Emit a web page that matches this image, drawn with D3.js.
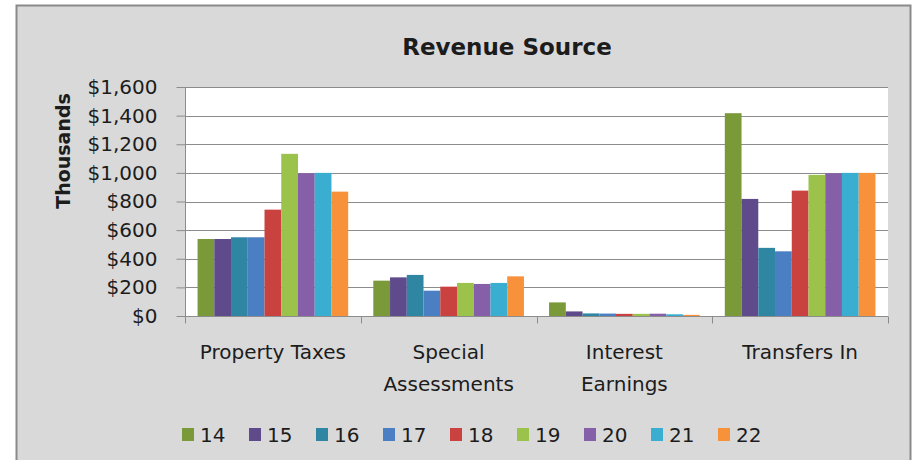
<!DOCTYPE html>
<html>
<head>
<meta charset="utf-8">
<script src="https://cdn.jsdelivr.net/npm/d3@7"></script>
<style>
  html, body { margin: 0; padding: 0; background: #ffffff; }
  svg { display: block; }
  text { font-family: "DejaVu Sans", sans-serif; fill: #1c1c1c; }
</style>
</head>
<body>
<svg id="chart" width="916" height="460"></svg>
<script>
// Revenue by source, fiscal years 14–22 (in thousands of dollars)
const categories = ["Property Taxes", "Special Assessments", "Interest Earnings", "Transfers In"];
const years = ["14", "15", "16", "17", "18", "19", "20", "21", "22"];
const propertyTaxes      = [538, 538, 550, 550, 743, 1133, 997, 1000, 869];
const specialAssessments = [247, 270, 287, 177, 205, 231, 224, 231, 277];
const interestEarnings   = [95, 32, 18, 17, 15, 15, 16, 12, 8];
const transfersIn        = [1417, 818, 476, 452, 876, 986, 997, 1000, 1000];
const yTicks = [0, 200, 400, 600, 800, 1000, 1200, 1400, 1600];
const yearColors = ["#7a9a3a", "#5f4a8b", "#2e86a3", "#4a7fc4", "#c9423f",
                    "#9bc24a", "#8560a8", "#3aaed0", "#f7923b"];

const valuesByCategory = [propertyTaxes, specialAssessments, interestEarnings, transfersIn];
const rows = categories.map((c, i) => ({ category: c, values: valuesByCategory[i] }));

const svg = d3.select("#chart");

// chart frame
svg.append("rect")
  .attr("x", 16.5).attr("y", 5.5).attr("width", 894).attr("height", 470)
  .attr("fill", "#d9d9d9").attr("stroke", "#8a8a8a").attr("stroke-width", 2);

const plot = { left: 185, right: 888, top: 87, bottom: 316 };

const x0 = d3.scaleBand().domain(categories).range([plot.left, plot.right]).padding(0);
const bw = x0.bandwidth();
const gapPad = bw * 0.75 / 10.5;
const x1 = d3.scaleBand().domain(years).range([gapPad, bw - gapPad]).padding(0);
const y = d3.scaleLinear().domain([0, 1600]).range([plot.bottom, plot.top]);
const color = d3.scaleOrdinal().domain(years).range(yearColors);

// plot area
svg.append("rect")
  .attr("x", plot.left).attr("y", plot.top)
  .attr("width", plot.right - plot.left).attr("height", plot.bottom - plot.top)
  .attr("fill", "#ffffff");

// gridlines
svg.append("g")
  .selectAll("line").data(yTicks.filter(d => d > 0)).join("line")
  .attr("x1", plot.left).attr("x2", plot.right)
  .attr("y1", d => Math.round(y(d)) + 0.5).attr("y2", d => Math.round(y(d)) + 0.5)
  .attr("stroke", "#8c8c8c").attr("stroke-width", 1);

// bars
const groups = svg.append("g").selectAll("g").data(rows).join("g")
  .attr("transform", d => `translate(${x0(d.category)},0)`);
groups.selectAll("rect")
  .data(d => d.values.map((v, i) => ({ year: years[i], value: v })))
  .join("rect")
  .attr("x", d => x1(d.year))
  .attr("width", x1.bandwidth())
  .attr("y", d => y(d.value))
  .attr("height", d => y(0) - y(d.value))
  .attr("fill", d => color(d.year));

// y axis
const yAxis = svg.append("g")
  .attr("transform", `translate(${plot.left + 0.5},0)`)
  .call(d3.axisLeft(y).tickValues(yTicks).tickSize(9).tickPadding(19)
    .tickFormat(d => "$" + d3.format(",")(d)));
yAxis.select(".domain").attr("stroke", "#8c8c8c").attr("d", `M0,${plot.top}V${plot.bottom}`);
yAxis.selectAll(".tick line").attr("stroke", "#8c8c8c");
yAxis.selectAll(".tick text")
  .attr("font-size", 20).attr("font-family", "DejaVu Sans, sans-serif").attr("fill", "#1c1c1c");

// x axis
const xAxis = svg.append("g")
  .attr("transform", `translate(0,${plot.bottom + 0.5})`);
xAxis.append("line")
  .attr("x1", plot.left).attr("x2", plot.right)
  .attr("stroke", "#8c8c8c");
xAxis.selectAll(".tick").data(d3.range(categories.length + 1)).join("line")
  .attr("x1", i => Math.round(plot.left + i * bw) + 0.5)
  .attr("x2", i => Math.round(plot.left + i * bw) + 0.5)
  .attr("y1", 0).attr("y2", 7)
  .attr("stroke", "#8c8c8c");

// category labels, wrapped to the band width
const catLabels = svg.append("g").selectAll("text").data(categories).join("text")
  .attr("x", d => x0(d) + bw / 2)
  .attr("y", 359)
  .attr("text-anchor", "middle")
  .attr("font-size", 20);
catLabels.each(function (d) {
  const t = d3.select(this);
  const words = d.split(" ");
  t.text(d);
  if (this.getComputedTextLength() > bw - 8 && words.length > 1) {
    t.text(null);
    const half = Math.ceil(words.length / 2);
    t.append("tspan").attr("x", x0(d) + bw / 2).attr("dy", 0).text(words.slice(0, half).join(" "));
    t.append("tspan").attr("x", x0(d) + bw / 2).attr("dy", 32).text(words.slice(half).join(" "));
  }
});

// title
svg.append("text")
  .attr("x", 507).attr("y", 55)
  .attr("text-anchor", "middle")
  .attr("font-size", 23).attr("font-weight", "bold")
  .attr("fill", "#111111")
  .text("Revenue Source");

// y axis title
svg.append("text")
  .attr("transform", "translate(70,151) rotate(-90)")
  .attr("text-anchor", "middle")
  .attr("font-size", 19).attr("font-weight", "bold")
  .attr("fill", "#111111")
  .text("Thousands");

// legend
const legend = svg.append("g").selectAll("g").data(years).join("g")
  .attr("transform", (d, i) => `translate(${182 + i * 67},435)`);
legend.append("rect")
  .attr("x", 0).attr("y", -7).attr("width", 12).attr("height", 13)
  .attr("fill", d => color(d));
legend.append("text")
  .attr("x", 18).attr("y", 7)
  .attr("font-size", 20)
  .text(d => d);
</script>
</body>
</html>
